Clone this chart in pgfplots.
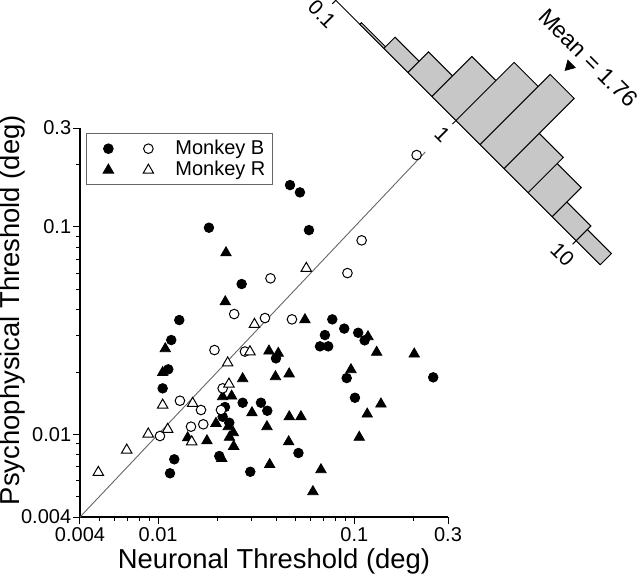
\documentclass[border=0pt]{standalone}
\usepackage{pgfplots}
\pgfplotsset{compat=1.18}
\usepackage{fontspec}
\setmainfont{Liberation Sans}
\begin{document}
\begin{tikzpicture}
\path[use as bounding box] (0,0) rectangle (320pt,286.5pt);
\begin{axis}[
  at={(40pt,28pt)}, anchor=south west,
  scale only axis, width=184pt, height=194.5pt,
  xmode=log, ymode=log,
  xmin=0.004, xmax=0.3, ymin=0.004, ymax=0.3,
  axis lines*=left,
  axis line style={line width=0.6pt},
  xtick={0.004,0.01,0.1,0.3}, xticklabels={0.004,0.01,0.1,0.3},
  ytick={0.004,0.01,0.1,0.3}, yticklabels={0.004,0.01,0.1,0.3},
  minor xtick={0.005,0.006,0.007,0.008,0.009,0.02,0.03,0.04,0.05,0.06,0.07,0.08,0.09,0.2},
  minor ytick={0.005,0.006,0.007,0.008,0.009,0.02,0.03,0.04,0.05,0.06,0.07,0.08,0.09,0.2},
  tick align=outside,
  major tick length=3.5pt, minor tick length=2pt,
  tick style={line width=0.5pt, black},
  tick label style={font=\fontsize{10}{12}\selectfont},
  yticklabel style={xshift=2.6pt},
  xticklabel style={yshift=1.6pt},
  xlabel={Neuronal Threshold (deg)},
  ylabel={Psychophysical Threshold (deg)},
  label style={font=\fontsize{13.7}{16}\selectfont},
  xlabel style={at={(axis description cs:0.527,-0.132)}, anchor=base},
  ylabel style={at={(axis description cs:-0.183,0.532)}, anchor=center},
  clip=false,
  legend style={at={(axis description cs:0.016,0.986)}, anchor=north west,
    draw=black!60, line width=0.5pt, inner xsep=0pt, inner ysep=2pt,
    font=\fontsize{10}{12}\selectfont, row sep=0pt,
    nodes={inner xsep=2.5pt, inner ysep=1pt}},
  legend cell align=left,
]
% Monkey B, filled circles
\addplot[only marks, mark=*, mark size=2.4pt, black,
  legend image code/.code={
    \path[draw=none,fill=none] (0pt,-3pt) rectangle (42pt,3pt);
    \fill[black] (11pt,0pt) circle (2.4pt);
    \draw[black,fill=white,line width=0.5pt] (31pt,0pt) circle (2.4pt);}]
coordinates {
(0.0470,0.1592) (0.0528,0.1468) (0.01816,0.0992) (0.0587,0.0966)
(0.02665,0.0531) (0.01282,0.0356) (0.01167,0.02852) (0.0772,0.03587)
(0.0888,0.03238) (0.1046,0.03091) (0.1128,0.02842) (0.0708,0.03014)
(0.0668,0.02659) (0.0736,0.02659) (0.03986,0.02327) (0.01127,0.0206)
(0.2522,0.01885) (0.0914,0.0187) (0.01055,0.01668) (0.02192,0.01356)
(0.02133,0.01217) (0.02305,0.01139) (0.02697,0.01422) (0.03343,0.01422)
(0.036,0.01301) (0.01209,0.00759) (0.0115,0.0065) (0.0205,0.00787)
(0.02949,0.00661) (0.0519,0.00814) (0.1007,0.01503)
};
\addlegendentry{\makebox[46pt][l]{Monkey B}}
% Monkey R, filled triangles
\addplot[only marks, mark=triangle*, mark size=3pt, black,
  legend image code/.code={
    \path[draw=none,fill=none] (0pt,-3pt) rectangle (42pt,3pt);
    \fill[black] (11pt,3pt) -- (8.4pt,-1.5pt) -- (13.6pt,-1.5pt) -- cycle;
    \draw[black,fill=white,line width=0.5pt] (31pt,3pt) -- (28.4pt,-1.5pt) -- (33.6pt,-1.5pt) -- cycle;}]
coordinates {
(0.02218,0.0751) (0.02199,0.0436) (0.056,0.03572) (0.1173,0.02958)
(0.1299,0.02488) (0.2019,0.02442) (0.03672,0.02524) (0.04095,0.02461)
(0.01088,0.02589) (0.0961,0.02051) (0.03963,0.01898) (0.04653,0.01959)
(0.02697,0.01856) (0.01055,0.01988) (0.02133,0.0152) (0.0237,0.01531)
(0.01972,0.01131) (0.02278,0.0109) (0.02416,0.0102) (0.0231,0.00969)
(0.01415,0.00964) (0.01774,0.00932) (0.02427,0.00876) (0.03008,0.01272)
(0.03586,0.0109) (0.0466,0.01217) (0.05344,0.01217) (0.04627,0.00922)
(0.02108,0.00767) (0.03702,0.00716) (0.0615,0.0053) (0.06757,0.00676)
(0.1366,0.01402) (0.1163,0.01254) (0.1059,0.00969)
};
\addlegendentry{\makebox[46pt][l]{Monkey R}}
% Monkey B, open circles
\addplot[forget plot, only marks, mark=*, mark size=2.4pt,
  mark options={draw=black, fill=white, line width=0.5pt}]
coordinates {
(0.2076,0.2222) (0.1089,0.0862) (0.0922,0.05996) (0.03738,0.05656)
(0.02442,0.03805) (0.03503,0.0364) (0.04809,0.03587) (0.01938,0.02552)
(0.0277,0.0251) (0.02133,0.01668) (0.01292,0.01454) (0.01654,0.01312)
(0.02091,0.01312) (0.01471,0.0109) (0.01699,0.01119) (0.01022,0.00983)
};
% Monkey R, open triangles
\addplot[forget plot, only marks, mark=triangle*, mark size=3pt,
  mark options={draw=black, fill=white, line width=0.5pt}]
coordinates {
(0.0569,0.0632) (0.03097,0.03393) (0.02938,0.02504) (0.02262,0.02212)
(0.02296,0.0175) (0.01055,0.01386) (0.015,0.01413) (0.01119,0.01059)
(0.00891,0.01005) (0.01483,0.00922) (0.00692,0.00841) (0.00496,0.00657)
};
% unity line
\addplot[forget plot, black!60, line width=0.45pt] coordinates {(0.004,0.004) (0.23,0.23)};
\end{axis}

\begin{scope}[shift={(228pt,226.25pt)}, rotate=-45, transform shape]
\begin{axis}[
  at={(0pt,0pt)}, anchor=origin,
  scale only axis, width=187pt, height=49.8pt,
  xmin=-1, xmax=1.2, ymin=0, ymax=24,
  axis x line*=bottom, axis y line=none,
  axis line style={line width=0.5pt},
  xtick={-1,0,1}, xticklabels={0.1,1,10},
  x tick label as interval=false,
  minor xtick={},
  tick align=outside, major tick length=2.5pt,
  tick style={line width=0.5pt, black},
  tick label style={font=\fontsize{10.5}{12}\selectfont},
  clip=false,
]
\addplot[ybar interval, fill=black!22, draw=black, line width=0.5pt]
coordinates {(-0.8,0.55) (-0.6,3.8) (-0.4,7) (-0.2,13.6) (0,19.8) (0.2,23.9) (0.4,12) (0.6,9.9) (0.8,5) (1.0,3.8) (1.2,3.8)};
\addplot[only marks, mark=triangle*, mark size=3pt, mark options={rotate=180}, black]
coordinates {(0.2455,28.6)};
\node[font=\fontsize{11.5}{13}\selectfont] at (axis cs:0.29,33.2) {Mean = 1.76};
\end{axis}
\end{scope}
\end{tikzpicture}
\end{document}
